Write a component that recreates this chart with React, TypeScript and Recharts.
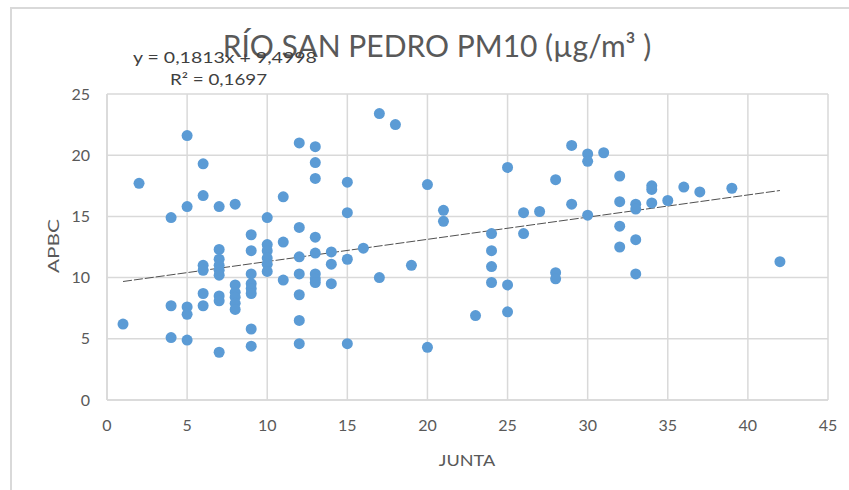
import { ScatterChart, Scatter, XAxis, YAxis, CartesianGrid, ReferenceLine } from "recharts";

// JUNTA (x) and APBC (y)
const junta = [
  1, 2, 4, 4, 4, 5, 5, 5, 5, 5,
  6, 6, 6, 6, 6, 6, 7, 7, 7, 7, 7, 7, 7, 7, 7,
  8, 8, 8, 8, 8, 8, 9, 9, 9, 9, 9, 9, 9, 9,
  10, 10, 10, 10, 10, 10, 11, 11, 11,
  12, 12, 12, 12, 12, 12, 12, 13, 13, 13, 13, 13, 13, 13, 13,
  14, 14, 14, 15, 15, 15, 15, 16, 17, 17, 18, 19, 20, 20, 21, 21,
  23, 24, 24, 24, 24, 25, 25, 25, 26, 26, 27, 28, 28, 28, 29, 29,
  30, 30, 30, 31, 32, 32, 32, 32, 33, 33, 33, 33, 34, 34, 34,
  35, 36, 37, 39, 42,
];
const apbc = [
  6.2, 17.7, 14.9, 7.7, 5.1, 21.6, 15.8, 7.6, 7.0, 4.9,
  19.3, 16.7, 11.0, 10.6, 8.7, 7.7, 15.8, 12.3, 11.5, 11.0, 10.6, 10.2, 8.5, 8.1, 3.9,
  16.0, 9.4, 8.8, 8.4, 7.9, 7.4, 13.5, 12.2, 10.3, 9.5, 9.1, 8.7, 5.8, 4.4,
  14.9, 12.7, 12.2, 11.6, 11.1, 10.5, 16.6, 12.9, 9.8,
  21.0, 14.1, 11.7, 10.3, 8.6, 6.5, 4.6, 20.7, 19.4, 18.1, 13.3, 12.0, 10.3, 9.9, 9.6,
  12.1, 11.1, 9.5, 17.8, 15.3, 11.5, 4.6, 12.4, 23.4, 10.0, 22.5, 11.0, 17.6, 4.3, 15.5, 14.6,
  6.9, 13.6, 12.2, 10.9, 9.6, 19.0, 9.4, 7.2, 15.3, 13.6, 15.4, 18.0, 10.4, 9.9, 20.8, 16.0,
  20.1, 19.5, 15.1, 20.2, 18.3, 16.2, 14.2, 12.5, 16.0, 15.6, 13.1, 10.3, 17.5, 17.2, 16.1,
  16.3, 17.4, 17.0, 17.3, 11.3,
];

const xTicks = [0, 5, 10, 15, 20, 25, 30, 35, 40, 45];
const yTicks = [0, 5, 10, 15, 20, 25];

// linear trend from the reference equation
const slope = 0.1813;
const intercept = 9.4998;
const trendFrom = 1;
const trendTo = 42;

const points = junta.map((x, i) => ({ x, y: apbc[i] }));

const gray = "#595959";
const font = "Lato, 'Open Sans', sans-serif";
const tick = { fill: gray, fontSize: 16, fontFamily: font };

const stretched = (sx: number) => ({ transform: `scaleX(${sx})`, transformOrigin: "left center" });

export default function App() {
  return (
    <div style={{ position: "fixed", left: 0, top: 0, width: 849, height: 490, overflow: "hidden", background: "#fff" }}>
      <div style={{ position: "absolute", left: 10, top: 7, width: 900, height: 600, border: "2px solid #d9d9d9" }} />
      <ScatterChart width={849} height={490} margin={{ top: 94, right: 21, bottom: 60, left: 47 }} style={{ position: "absolute", left: 0, top: 0 }}>
        <CartesianGrid stroke="#d9d9d9" strokeWidth={1.5} />
        <XAxis type="number" dataKey="x" domain={[0, 45]} ticks={xTicks} height={30} tickLine={false} axisLine={{ stroke: "#d9d9d9", strokeWidth: 1.5 }} tickSize={0} tickMargin={20} tick={tick} />
        <YAxis type="number" dataKey="y" domain={[0, 25]} ticks={yTicks} width={60} tickLine={false} axisLine={{ stroke: "#d9d9d9", strokeWidth: 1.5 }} tickSize={0} tickMargin={17} tick={tick} />
        <Scatter data={points} fill="#5b9bd5" shape={(p: any) => <circle cx={p.cx} cy={p.cy} r={5.5} fill="#5b9bd5" />} isAnimationActive={false} />
        <ReferenceLine
          segment={[
            { x: trendFrom, y: intercept + slope * trendFrom },
            { x: trendTo, y: intercept + slope * trendTo },
          ]}
          stroke="#505050"
          strokeWidth={1}
          strokeDasharray="9 2"
        />
      </ScatterChart>
      <div style={{ position: "absolute", left: 0, width: 874, top: 27, textAlign: "center", fontFamily: font, fontSize: 30, color: gray, whiteSpace: "nowrap" }}>
        RÍO SAN PEDRO PM10 (µg/m³ )
      </div>
      <div style={{ position: "absolute", left: 133, top: 48, fontFamily: font, fontSize: 15, color: "#404040", whiteSpace: "nowrap", ...stretched(1.3) }}>
        y = 0,1813x + 9,4998
      </div>
      <div style={{ position: "absolute", left: 170, top: 70, fontFamily: font, fontSize: 15, color: "#404040", whiteSpace: "nowrap", ...stretched(1.25) }}>
        R² = 0,1697
      </div>
      <div style={{ position: "absolute", left: 52, top: 246, transform: "translate(-50%, -50%) rotate(-90deg) scaleX(1.3)", fontFamily: font, fontSize: 16, color: gray }}>
        APBC
      </div>
      <div style={{ position: "absolute", left: 467, top: 459, transform: "translate(-50%, -50%) scaleX(1.13)", fontFamily: font, fontSize: 16, color: gray }}>
        JUNTA
      </div>
    </div>
  );
}
